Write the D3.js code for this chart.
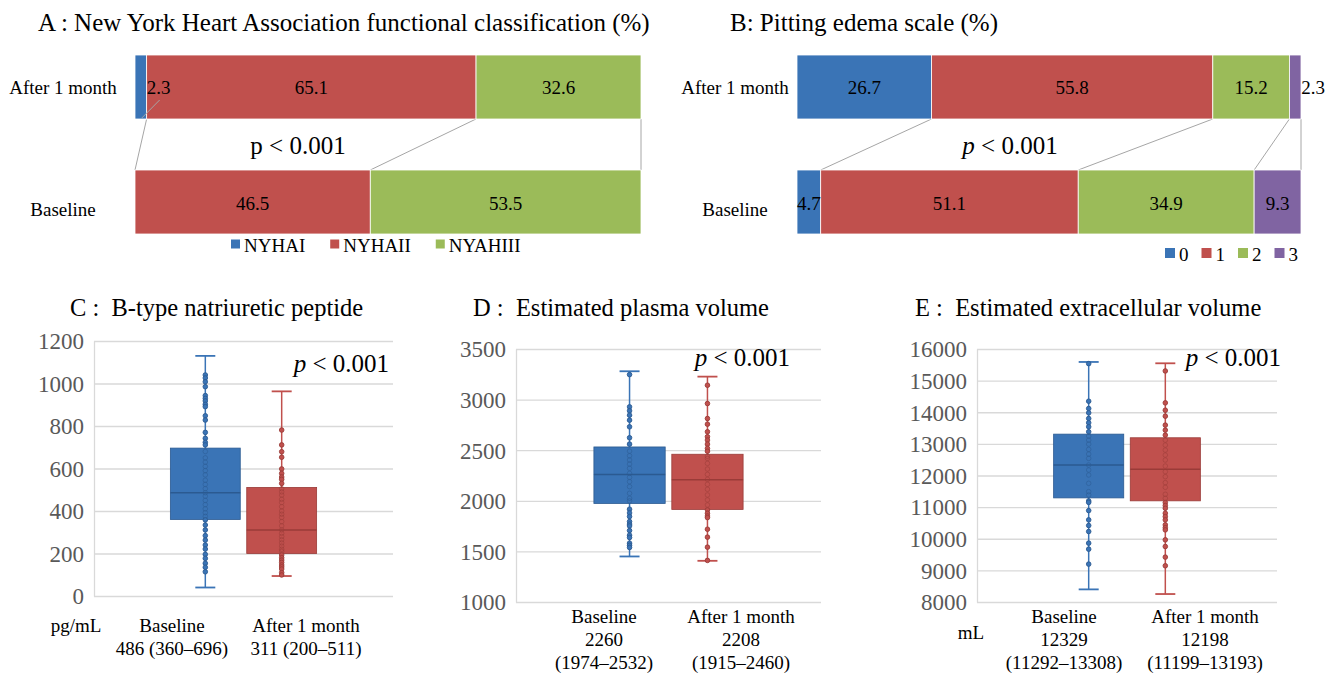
<!DOCTYPE html>
<html><head><meta charset="utf-8">
<script src="https://cdn.jsdelivr.net/npm/d3@7"></script>
<style>
body{margin:0;background:#fff;}
svg text{font-family:"Liberation Serif","Times New Roman",serif; white-space:pre;}
</style></head><body>
<svg id="chart" width="1336" height="673"></svg>
<script>
// ---------- DATA ----------
const rowCats = ["After 1 month", "Baseline"];

const nyhaSeries = ["NYHAI", "NYHAII", "NYAHIII"];
const nyhaAfter = [2.3, 65.1, 32.6];
const nyhaBaseline = [0, 46.5, 53.5];

const edemaSeries = ["0", "1", "2", "3"];
const edemaAfter = [26.7, 55.8, 15.2, 2.3];
const edemaBaseline = [4.7, 51.1, 34.9, 9.3];

const groups = ["Baseline", "After 1 month"];

const bnpTicks = [0, 200, 400, 600, 800, 1000, 1200];
const bnpMin = [40, 94], bnpQ1 = [360, 200], bnpMedian = [486, 311], bnpQ3 = [696, 511], bnpMax = [1130, 963];
const bnpBaseline = [1040,1026,1008,985,943,930,918,902,891,848,828,770,742,723,711,
  680,650,630,610,590,570,545,525,505,486,470,450,430,410,392,375,
  358,334,311,284,263,240,221,196,177,154,135,114];
const bnpAfter = [781,711,679,653,598,577,560,549,530,
  505,490,475,455,440,420,400,385,370,350,330,311,295,280,265,250,235,220,210,
  193,180,169,158,146,137,127,110,99];
const bnpLabels = [["Baseline", "486 (360–696)"], ["After 1 month", "311 (200–511)"]];

const epvTicks = [1000, 1500, 2000, 2500, 3000, 3500];
const epvMin = [1450, 1407], epvQ1 = [1974, 1915], epvMedian = [2260, 2208], epvQ3 = [2532, 2460], epvMax = [3280, 3227];
const epvBaseline = [3247,2928,2889,2846,2797,2731,2623,2560,
  2491,2445,2403,2363,2321,2271,2232,2189,2140,2074,2025,1999,
  1917,1880,1844,1795,1770,1752,1706,1660,1637,1581,1560,1539];
const epvAfter = [3142,2961,2813,2757,2682,2633,2600,2560,2518,2490,
  2440,2419,2370,2314,2261,2212,2163,2114,2058,2009,1959,
  1910,1877,1850,1834,1719,1641,1542,1411];
const epvLabels = [["Baseline", "2260", "(1974–2532)"], ["After 1 month", "2208", "(1915–2460)"]];

const ecvTicks = [8000, 9000, 10000, 11000, 12000, 13000, 14000, 15000, 16000];
const ecvMin = [8399, 8252], ecvQ1 = [11292, 11199], ecvMedian = [12329, 12198], ecvQ3 = [13308, 13193], ecvMax = [15590, 15548];
const ecvBaseline = [15537,14349,14118,13981,13803,13666,13540,13382,
  13245,13119,12993,12825,12678,12541,12331,12173,12016,11753,11490,11385,
  11196,11150,10891,10597,10418,10229,9861,9671,9198];
const ecvAfter = [15306,14297,14065,13876,13593,13435,13277,
  13119,12962,12804,12646,12489,12299,12121,11963,11774,11627,11406,11280,
  11143,11050,10964,10807,10700,10597,10439,10350,10281,9966,9755,9419,9146];
const ecvLabels = [["Baseline", "12329", "(11292–13308)"], ["After 1 month", "12198", "(11199–13193)"]];

// ---------- STYLE ----------
const FONT = '"Liberation Serif","Times New Roman",serif';
const C_BLUE = "#3a74b6", C_RED = "#c0504d", C_GREEN = "#9bbb59", C_PURPLE = "#8064a2";
const DARK = {[C_BLUE]: "#2b5a91", [C_RED]: "#9a3b38"};
const groupColors = [C_BLUE, C_RED];

const svg = d3.select("#chart");

// ---------- STACKED BAR PANELS ----------
function stackPanel(o) {
  const g = svg.append("g");
  const x = d3.scaleLinear().domain([0, 100]).range([o.left, o.right]);
  const y = d3.scaleBand().domain(rowCats).range([55, 234]).paddingInner(0.4435);
  const bw = y.bandwidth();
  const cumA = d3.cumsum(o.after), cumB = d3.cumsum(o.base);

  o.series.forEach((s, i) => {
    g.append("line")
      .attr("x1", x(cumA[i])).attr("y1", y(rowCats[0]) + bw)
      .attr("x2", x(cumB[i])).attr("y2", y(rowCats[1]))
      .attr("stroke", "#a6a6a6").attr("stroke-width", 1);
  });

  [[rowCats[0], o.after], [rowCats[1], o.base]].forEach(([cat, vals]) => {
    let cum = 0;
    const segs = vals.map((v, i) => { const s = {i, v, x0: cum, x1: cum + v}; cum += v; return s; })
      .filter(d => d.v > 0);
    g.selectAll(null).data(segs).join("rect")
      .attr("x", d => x(d.x0)).attr("width", d => x(d.x1) - x(d.x0))
      .attr("y", y(cat)).attr("height", bw)
      .attr("fill", d => o.colors[d.i])
      .attr("stroke", "#fff").attr("stroke-width", 0.8);
    const cy = y(cat) + bw / 2;
    segs.forEach(d => {
      const w = x(d.x1) - x(d.x0);
      let lx = (x(d.x0) + x(d.x1)) / 2;
      if (w < 15) {
        lx = x(d.x1) + 12;
        if (o.leader) {
          g.append("line").attr("x1", lx + 1).attr("y1", cy + 13)
            .attr("x2", (x(d.x0) + x(d.x1)) / 2 + 1).attr("y2", y(cat) + bw - 1)
            .attr("stroke", "#a6a6a6").attr("stroke-width", 1);
        }
      }
      g.append("text").attr("x", lx).attr("y", cy + 1)
        .attr("text-anchor", "middle").attr("dominant-baseline", "central")
        .attr("font-size", 19).attr("fill", "#000").text(d3.format(".1f")(d.v));
    });
  });

  rowCats.forEach(c => {
    g.append("text").attr("x", o.rowLabelX).attr("y", y(c) + bw / 2 + (c === "Baseline" ? 7 : 1))
      .attr("text-anchor", "middle").attr("dominant-baseline", "central")
      .attr("font-size", 19).text(c);
  });

  g.append("text").attr("x", o.titleX).attr("y", 22).attr("dominant-baseline", "central")
    .attr("font-size", 25).text(o.title);

  const pt = g.append("text").attr("x", o.pX).attr("y", 145).attr("text-anchor", "middle")
    .attr("dominant-baseline", "central").attr("font-size", 25);
  pt.append("tspan").attr("font-style", o.pItalic ? "italic" : "normal").text("p");
  pt.append("tspan").text(" < 0.001");

  let lx = o.legendX;
  o.series.forEach((s, i) => {
    g.append("rect").attr("x", lx).attr("y", o.legendY - o.sq / 2).attr("width", o.sq).attr("height", o.sq)
      .attr("fill", o.colors[i]);
    const t = g.append("text").attr("x", lx + o.sq + 4).attr("y", o.legendY + 1)
      .attr("dominant-baseline", "central").attr("font-size", 19).text(s);
    lx += o.sq + 4 + t.node().getComputedTextLength() + o.legendGap;
  });
}

stackPanel({
  left: 135, right: 641, after: nyhaAfter, base: nyhaBaseline, series: nyhaSeries,
  colors: [C_BLUE, C_RED, C_GREEN], rowLabelX: 63, leader: true,
  title: "A : New York Heart Association functional classification (%)", titleX: 38,
  pX: 298, pItalic: false, legendX: 231, legendY: 244, sq: 9, legendGap: 25
});
stackPanel({
  left: 797, right: 1301, after: edemaAfter, base: edemaBaseline, series: edemaSeries,
  colors: [C_BLUE, C_RED, C_GREEN, C_PURPLE], rowLabelX: 735, leader: false,
  title: "B: Pitting edema scale (%)", titleX: 730,
  pX: 1010, pItalic: true, legendX: 1165, legendY: 253, sq: 10, legendGap: 13
});

// ---------- BOX PLOT PANELS ----------
function boxPanel(o) {
  const g = svg.append("g");
  const y = d3.scaleLinear().domain([o.ticks[0], o.ticks[o.ticks.length - 1]]).range([o.bottom, o.top]);
  const x = d3.scaleBand().domain(groups).range([o.left, o.right]).paddingInner(0.085).paddingOuter(1);
  const bw = x.bandwidth();

  const ax = d3.axisLeft(y).tickValues(o.ticks).tickFormat(d3.format("d"))
    .tickSize(-(o.right - o.left)).tickSizeOuter(0).tickPadding(10);
  const ag = g.append("g").attr("transform", `translate(${o.left},0)`).call(ax);
  ag.attr("font-family", null).attr("font-size", null);
  ag.select(".domain").attr("stroke", "#d9d9d9").attr("stroke-width", 1.3);
  ag.selectAll(".tick line").attr("stroke", "#d9d9d9").attr("stroke-width", 1.3);
  ag.selectAll(".tick text").attr("fill", "#595959")
    .style("font-size", "23px").style("font-family", FONT).attr("dy", "0.34em");

  groups.forEach((grp, i) => {
    const col = groupColors[i], dk = DARK[col];
    const cx = x(grp) + bw / 2;
    const st = o.stats;
    g.append("line").attr("x1", cx).attr("x2", cx).attr("y1", y(st.max[i])).attr("y2", y(st.min[i]))
      .attr("stroke", col).attr("stroke-width", 1.5);
    [st.max[i], st.min[i]].forEach(v => {
      g.append("line").attr("x1", cx - 10).attr("x2", cx + 10).attr("y1", y(v)).attr("y2", y(v))
        .attr("stroke", col).attr("stroke-width", 1.8);
    });
    g.append("rect").attr("x", x(grp)).attr("width", bw)
      .attr("y", y(st.q3[i])).attr("height", y(st.q1[i]) - y(st.q3[i]))
      .attr("fill", col).attr("stroke", dk).attr("stroke-width", 0.8);
    g.append("line").attr("x1", x(grp)).attr("x2", x(grp) + bw)
      .attr("y1", y(st.median[i])).attr("y2", y(st.median[i]))
      .attr("stroke", dk).attr("stroke-width", 1.5);
    const inBox = d => d >= st.q1[i] && d <= st.q3[i];
    g.selectAll(null).data(o.points[i]).join("circle")
      .attr("cx", cx).attr("cy", d => y(d)).attr("r", 2.3)
      .attr("fill", d => inBox(d) ? "none" : col)
      .attr("stroke", dk)
      .attr("stroke-opacity", d => inBox(d) ? 0.55 : 1)
      .attr("stroke-width", 0.9);
    o.labels[i].forEach((line, j) => {
      g.append("text").attr("x", o.left + o.labelX[i]).attr("y", o.labelY + j * 23)
        .attr("text-anchor", "middle").attr("dominant-baseline", "central")
        .attr("font-size", 19).text(line);
    });
  });

  if (o.unit) {
    g.append("text").attr("x", o.unitX).attr("y", o.unitY).attr("text-anchor", "middle")
      .attr("dominant-baseline", "central").attr("font-size", 19).text(o.unit);
  }
  g.append("text").attr("x", o.titleX).attr("y", 307).attr("dominant-baseline", "central")
    .attr("font-size", 24.5).text(o.title);
  const pt = g.append("text").attr("x", o.pRight).attr("y", o.pY).attr("text-anchor", "end")
    .attr("dominant-baseline", "central").attr("font-size", 25);
  pt.append("tspan").attr("font-style", "italic").text("p");
  pt.append("tspan").text(" < 0.001");
}

boxPanel({
  left: 94, right: 393, top: 341, bottom: 596, ticks: bnpTicks,
  stats: {min: bnpMin, q1: bnpQ1, median: bnpMedian, q3: bnpQ3, max: bnpMax},
  points: [bnpBaseline, bnpAfter], labels: bnpLabels, labelX: [78, 212], labelY: 625,
  unit: "pg/mL", unitX: 76, unitY: 625,
  title: "C :  B-type natriuretic peptide", titleX: 70, pRight: 389, pY: 363
});
boxPanel({
  left: 516, right: 821, top: 349, bottom: 602, ticks: epvTicks,
  stats: {min: epvMin, q1: epvQ1, median: epvMedian, q3: epvQ3, max: epvMax},
  points: [epvBaseline, epvAfter], labels: epvLabels, labelX: [88, 225], labelY: 616,
  title: "D :  Estimated plasma volume", titleX: 473, pRight: 790, pY: 357
});
boxPanel({
  left: 977, right: 1277, top: 349, bottom: 602, ticks: ecvTicks,
  stats: {min: ecvMin, q1: ecvQ1, median: ecvMedian, q3: ecvQ3, max: ecvMax},
  points: [ecvBaseline, ecvAfter], labels: ecvLabels, labelX: [87, 228], labelY: 616,
  unit: "mL", unitX: 971, unitY: 632,
  title: "E :  Estimated extracellular volume", titleX: 915, pRight: 1281, pY: 357
});
</script>
</body></html>
